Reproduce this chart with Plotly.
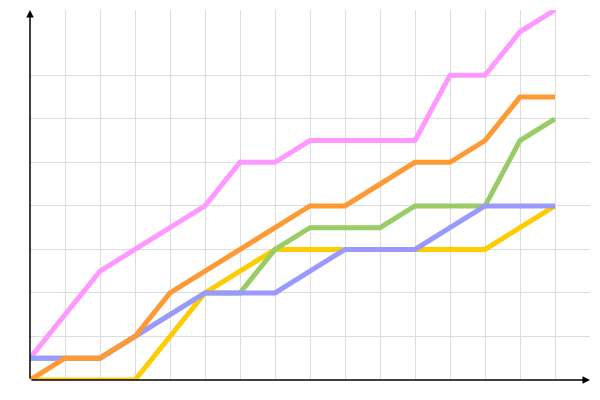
import plotly.graph_objects as go

x_idx = list(range(16))
pink = [1, 3, 5, 6, 7, 8, 10, 10, 11, 11, 11, 11, 14, 14, 16, 17]
yellow = [0, 0, 0, 0, 2, 4, 5, 6, 6, 6, 6, 6, 6, 6, 7, 8]
green = [1, 1, 1, 2, 3, 4, 4, 6, 7, 7, 7, 8, 8, 8, 11, 12]
blue = [1, 1, 1, 2, 3, 4, 4, 4, 5, 6, 6, 6, 7, 8, 8, 8]
orange = [0, 1, 1, 2, 4, 5, 6, 7, 8, 8, 9, 10, 10, 11, 13, 13]

series = [
    ("pink", pink, "#ff99ff"),
    ("yellow", yellow, "#ffcc00"),
    ("green", green, "#99cc66"),
    ("blue", blue, "#9999ff"),
    ("orange", orange, "#ff9933"),
]

fig = go.Figure()
for name, vals, col in series:
    fig.add_trace(go.Scatter(x=x_idx, y=vals, mode="lines", name=name,
                             line=dict(color=col, width=5), hoverinfo="skip"))

fig.update_layout(
    width=600, height=400,
    margin=dict(l=30, r=10, t=10, b=20),
    plot_bgcolor="white", paper_bgcolor="white",
    showlegend=False,
    xaxis=dict(range=[0, 16], tickvals=list(range(1, 16)), showticklabels=False,
               ticks="", showgrid=True, gridcolor="#dddddd", gridwidth=1,
               zeroline=False, showline=False, fixedrange=True),
    yaxis=dict(range=[0, 17], tickvals=list(range(2, 15, 2)), showticklabels=False,
               ticks="", showgrid=True, gridcolor="#dddddd", gridwidth=1,
               zeroline=False, showline=False, fixedrange=True),
    annotations=[
        dict(x=0, y=17, ax=0, ay=0, xref="x", yref="y", axref="x", ayref="y",
             showarrow=True, arrowhead=2, arrowsize=1, arrowwidth=1.5,
             arrowcolor="black", text=""),
        dict(x=16, y=0, ax=0, ay=0, xref="x", yref="y", axref="x", ayref="y",
             showarrow=True, arrowhead=2, arrowsize=1, arrowwidth=1.5,
             arrowcolor="black", text=""),
    ],
)

fig.write_html("out.html", config={"displayModeBar": False},
               post_script="document.body.style.margin='0';document.body.style.overflow='hidden';")
